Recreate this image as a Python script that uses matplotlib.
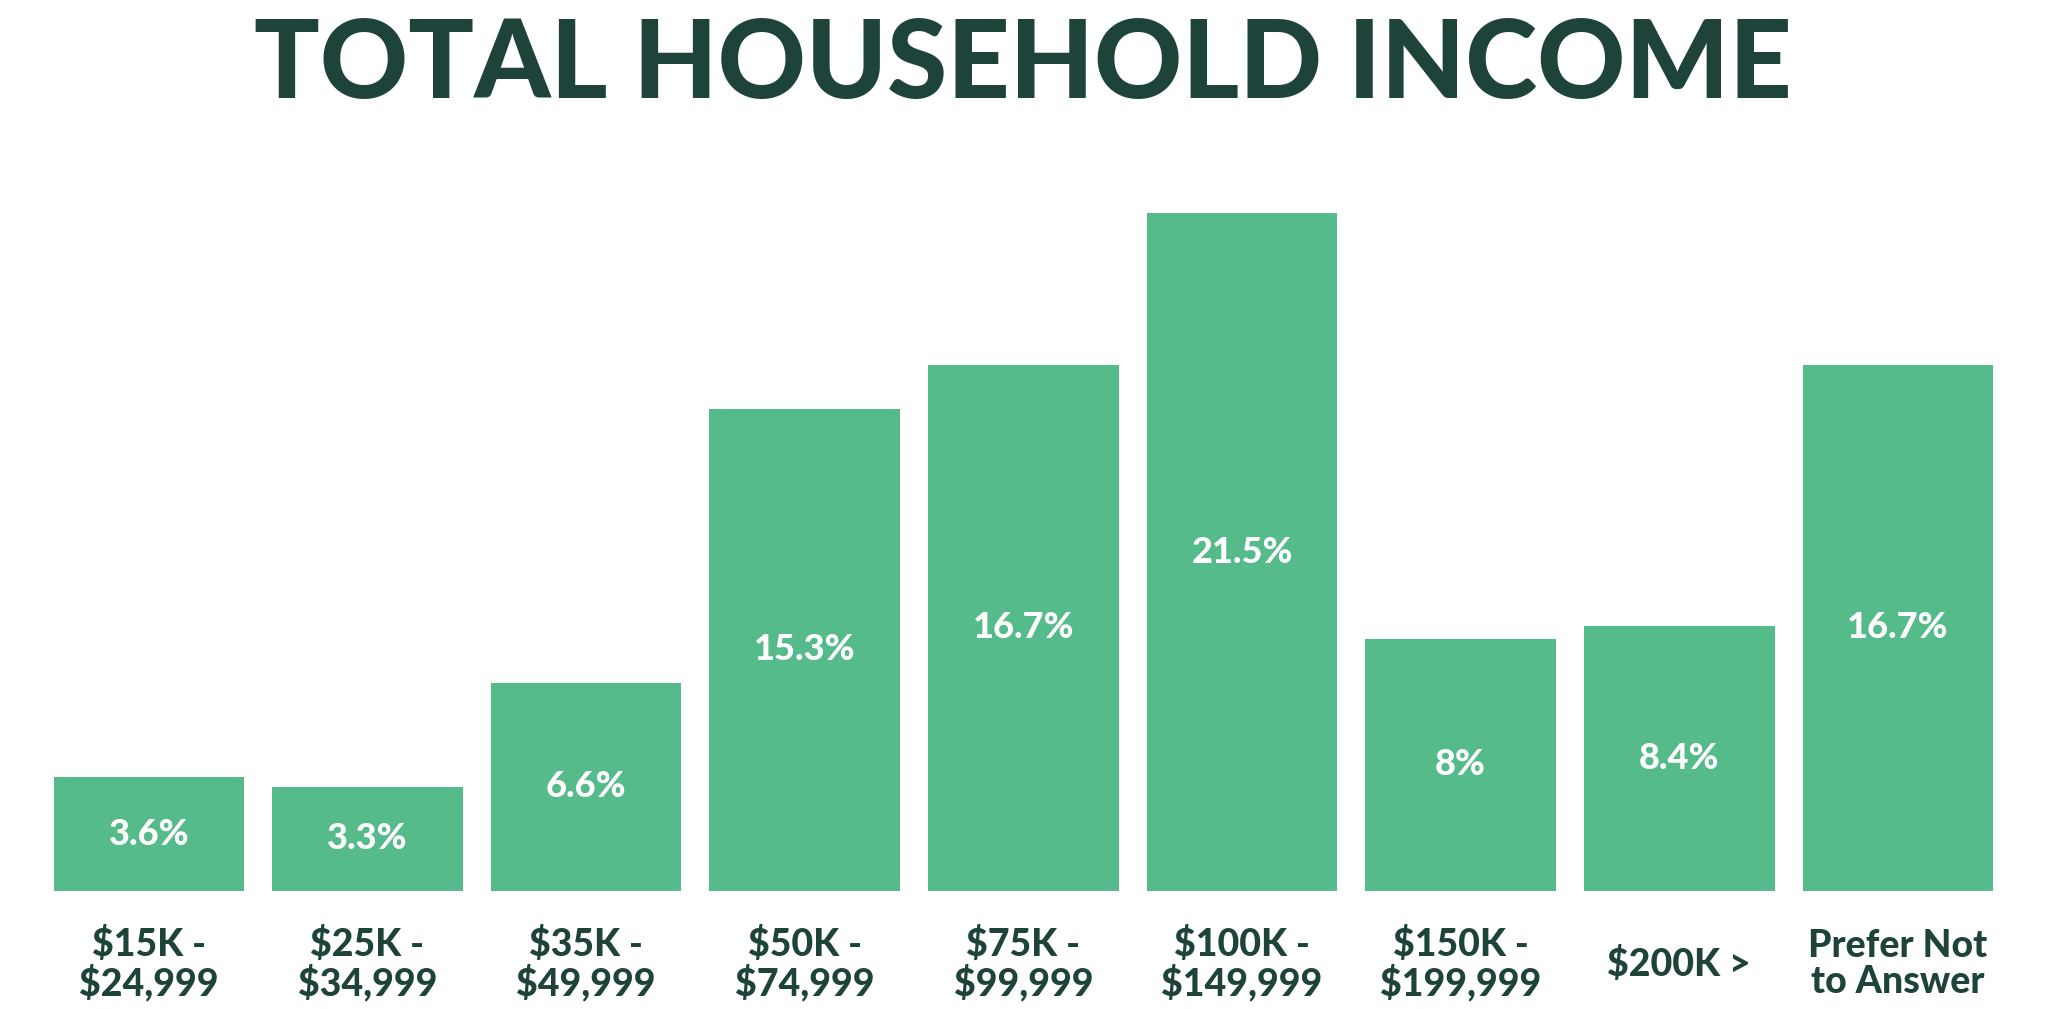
import matplotlib
matplotlib.use("Agg")
import matplotlib.pyplot as plt

# dados
categorias = ["$15K -\n$24,999", "$25K -\n$34,999", "$35K -\n$49,999",
              "$50K -\n$74,999", "$75K -\n$99,999", "$100K -\n$149,999",
              "$150K -\n$199,999", "$200K >", "Prefer Not\nto Answer"]
valores = [3.6, 3.3, 6.6, 15.3, 16.7, 21.5, 8.0, 8.4, 16.7]
rotulos = ["3.6%", "3.3%", "6.6%", "15.3%", "16.7%", "21.5%", "8%", "8.4%", "16.7%"]

verde = "#55bb8a"
escuro = "#1e433b"
plt.rcParams["font.family"] = ["Lato", "DejaVu Sans"]

fig = plt.figure(figsize=(20.48, 10.09), dpi=100)
ax = fig.add_axes([0.0193, 0.1172, 0.9608, 0.7341])

x = list(range(len(valores)))
ax.bar(x, valores, width=0.872, color=verde)

for xi, v, r in zip(x, valores, rotulos):
    ax.text(xi, v / 2, r, ha="center", va="center", color="white",
            fontsize=26, fontweight="black")

for xi, c in zip(x, categorias):
    ax.text(xi, -0.099, c, transform=ax.get_xaxis_transform(),
            ha="center", va="center", multialignment="center",
            color=escuro, fontsize=27, fontweight="black", linespacing=1.05)

ax.set_xlim(-0.5, 8.5)
ax.set_ylim(0, 23.51)
ax.axis("off")

fig.text(0.4995, 0.903, "TOTAL HOUSEHOLD INCOME", ha="center", va="baseline",
         color=escuro, fontsize=78.5, fontweight="black")

fig.savefig("out.png", dpi=100)
